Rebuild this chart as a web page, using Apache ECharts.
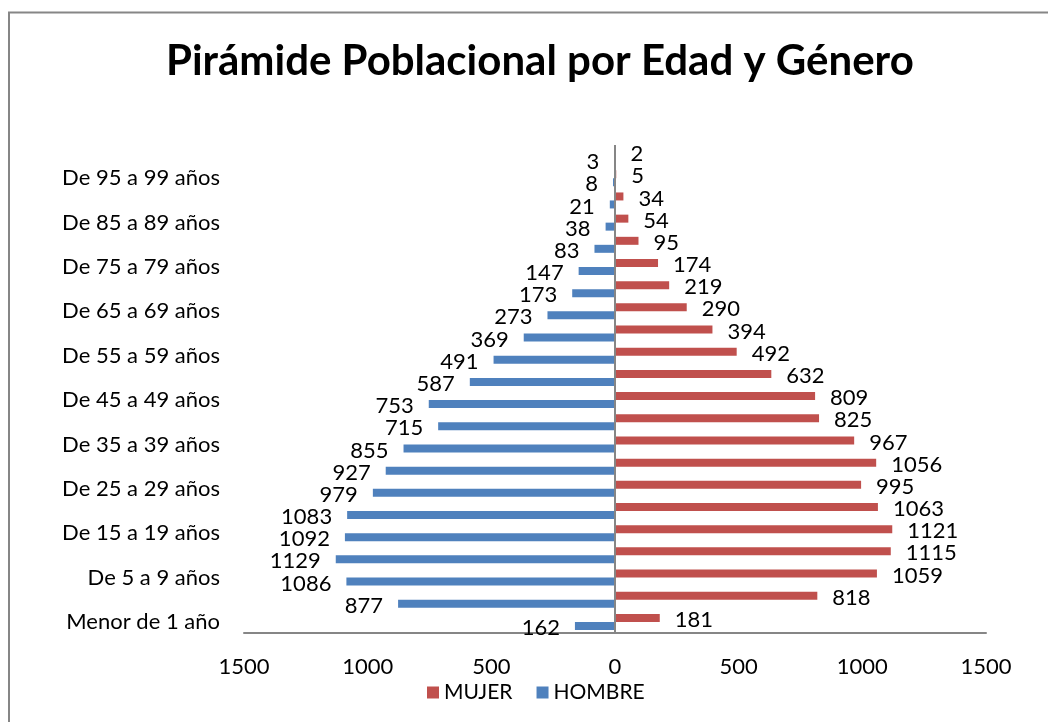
<!DOCTYPE html>
<html>
<head>
<meta charset="utf-8">
<script src="https://cdn.jsdelivr.net/npm/echarts@6/dist/echarts.min.js"></script>
<style>
html,body{margin:0;padding:0;background:#fff;}
#chart{width:1048px;height:722px;}
</style>
</head>
<body>
<div id="chart"></div>
<script>
const categories = ['Menor de 1 año','De 1 a 4 años','De 5 a 9 años','De 10 a 14 años','De 15 a 19 años','De 20 a 24 años','De 25 a 29 años','De 30 a 34 años','De 35 a 39 años','De 40 a 44 años','De 45 a 49 años','De 50 a 54 años','De 55 a 59 años','De 60 a 64 años','De 65 a 69 años','De 70 a 74 años','De 75 a 79 años','De 80 a 84 años','De 85 a 89 años','De 90 a 94 años','De 95 a 99 años','De 100 años y más'];
const mujer = [181, 818, 1059, 1115, 1121, 1063, 995, 1056, 967, 825, 809, 632, 492, 394, 290, 219, 174, 95, 54, 34, 5, 2];
const hombre = [162, 877, 1086, 1129, 1092, 1083, 979, 927, 855, 715, 753, 587, 491, 369, 273, 173, 147, 83, 38, 21, 8, 3];
const xTicks = [-1500, -1000, -500, 0, 500, 1000, 1500];

const FONT = 'Lato';
const chart = echarts.init(document.getElementById('chart'), null, {renderer: 'canvas'});
chart.setOption({
  animation: false,
  backgroundColor: '#fff',
  textStyle: {fontFamily: FONT, color: '#000'},
  title: {
    text: 'Pirámide Poblacional por Edad y Género',
    left: 161, top: 35,
    textStyle: {fontFamily: FONT, fontWeight: 'bold', fontSize: 42, color: '#000'}
  },
  graphic: [{
    type: 'rect', shape: {x: 9, y: 12.5, width: 1100, height: 800},
    style: {fill: null, stroke: '#868686', lineWidth: 2}, silent: true, z: -1
  }],
  legend: {
    data: ['MUJER', 'HOMBRE'],
    left: 427, top: 682, padding: 0, itemWidth: 12, itemHeight: 12, itemGap: 24,
    icon: 'rect',
    textStyle: {fontFamily: FONT, fontSize: 21, color: '#000'}
  },
  grid: {left: 244, right: 62, top: 145, bottom: 89, containLabel: false},
  xAxis: {
    type: 'value', min: xTicks[0], max: xTicks[xTicks.length - 1], interval: 500,
    axisLine: {show: true, onZero: false, lineStyle: {color: '#868686', width: 2}},
    axisTick: {show: false},
    splitLine: {show: false},
    axisLabel: {margin: 23, fontFamily: FONT, fontSize: 22, color: '#000',
      formatter: v => String(Math.abs(v))}
  },
  yAxis: {
    type: 'category', data: categories,
    axisLine: {show: false}, axisTick: {show: false},
    axisLabel: {interval: 1, margin: 24, fontFamily: FONT, fontSize: 22, color: '#000'}
  },
  series: [
    {
      name: 'MUJER', type: 'bar', data: mujer,
      barWidth: 8, barGap: '0%',
      itemStyle: {color: '#C0504D'},
      label: {show: true, position: 'right', distance: 15, offset: [0, 2], fontFamily: FONT, fontSize: 22, color: '#000'}
    },
    {
      name: 'HOMBRE', type: 'bar', data: hombre.map(v => -v),
      barWidth: 8, barGap: '0%',
      itemStyle: {color: '#4F81BD'},
      label: {show: true, position: 'left', distance: 15, offset: [0, 2], fontFamily: FONT, fontSize: 22, color: '#000',
        formatter: p => String(Math.abs(p.value))},
      markLine: {
        silent: true, symbol: 'none', label: {show: false},
        lineStyle: {color: '#868686', width: 2, type: 'solid'},
        data: [{xAxis: 0}]
      }
    }
  ]
});
</script>
</body>
</html>
